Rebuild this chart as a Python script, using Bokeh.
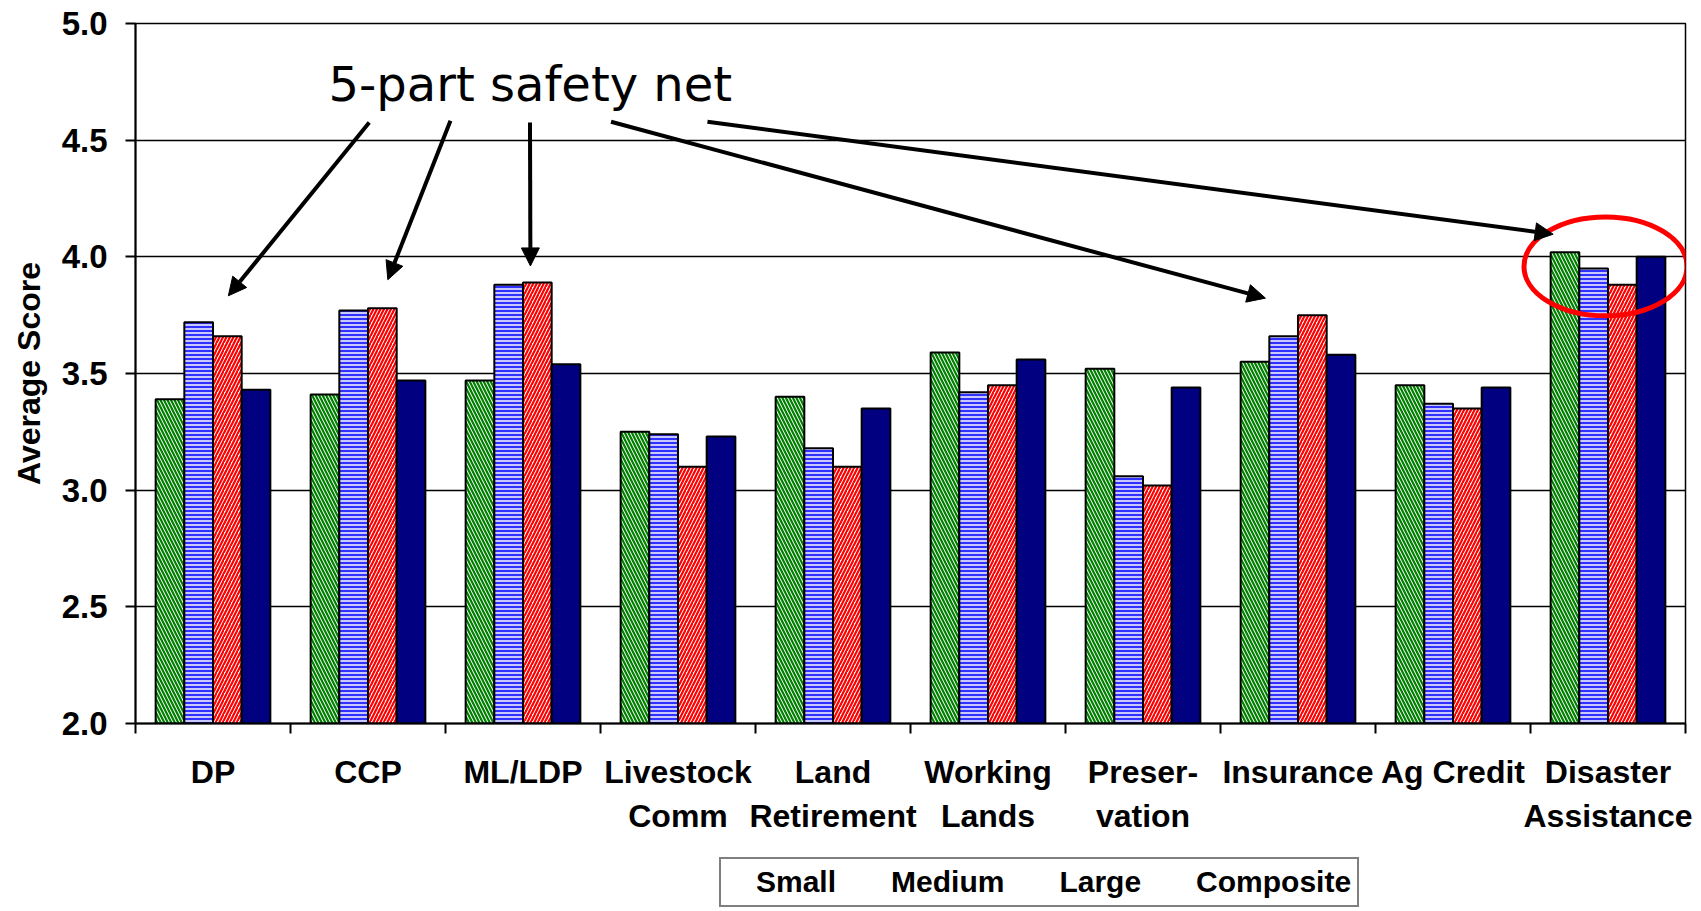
from bokeh.plotting import figure
from bokeh.layouts import column
from bokeh.models import (Range1d, LinearAxis, FixedTicker,
                          Legend, LegendItem, Arrow, NormalHead, Label, ColumnDataSource,
                          NumeralTickFormatter)
from bokeh.transform import dodge
from bokeh.embed import file_html
from bokeh.resources import INLINE

# ---------------- data ----------------
categories = ["DP", "CCP", "ML/LDP", "Livestock\nComm", "Land\nRetirement",
              "Working\nLands", "Preser-\nvation", "Insurance", "Ag Credit",
              "Disaster\nAssistance"]
series_names = ["Small", "Medium", "Large", "Composite"]
small = [3.39, 3.41, 3.47, 3.25, 3.40, 3.59, 3.52, 3.55, 3.45, 4.02]
medium = [3.72, 3.77, 3.88, 3.24, 3.18, 3.42, 3.06, 3.66, 3.37, 3.95]
large = [3.66, 3.78, 3.89, 3.10, 3.10, 3.45, 3.02, 3.75, 3.35, 3.88]
composite = [3.43, 3.47, 3.54, 3.23, 3.35, 3.56, 3.44, 3.58, 3.44, 4.00]
y_ticks = [2.0, 2.5, 3.0, 3.5, 4.0, 4.5, 5.0]
y_title = "Average Score"
note_text = "5-part safety net"

n = len(categories)
centers = [i + 0.5 for i in range(n)]          # category slot centres
bounds = [float(i) for i in range(n + 1)]      # category slot boundaries
first_lines = {c: cat.split("\n")[0] for c, cat in zip(centers, categories)}
second_lines = {c: cat.split("\n")[1] for c, cat in zip(centers, categories) if "\n" in cat}
source = ColumnDataSource(dict(pos=centers, small=small, medium=medium,
                               large=large, composite=composite))

FONT = "Liberation Sans"

p = figure(frame_width=1550, frame_height=700, x_range=Range1d(0, n),
           y_range=Range1d(y_ticks[0], y_ticks[-1]),
           output_backend="svg", toolbar_location=None, x_axis_location=None,
           min_border_left=135, min_border_right=16, min_border_top=23,
           min_border_bottom=118)
p.background_fill_color = "white"
p.border_fill_color = "white"
p.outline_line_color = "black"
p.outline_line_width = 1.5

# ---------------- bars ----------------
bar_w = 0.185
offsets = [-0.2775, -0.0925, 0.0925, 0.2775]
styles = [
    dict(fill_color="white", hatch_pattern="\\", hatch_color="#008000", hatch_scale=7, hatch_weight=2.2),
    dict(fill_color="#c8c8ff", hatch_pattern="-", hatch_color="#3030ff", hatch_scale=4, hatch_weight=2),
    dict(fill_color="white", hatch_pattern="/", hatch_color="#ff0000", hatch_scale=7, hatch_weight=2.2),
    dict(fill_color="#000080"),
]
cols = ["small", "medium", "large", "composite"]
for col, off, st in zip(cols, offsets, styles):
    p.vbar(x=dodge("pos", off), top=col, bottom=y_ticks[0],
           width=bar_w, source=source, line_color="black", line_width=2, **st)

# ---------------- annotations ----------------
p.ellipse(x=[9.484], y=[3.959], width=[1.052], height=[0.424],
          fill_color=None, line_color="#ff0000", line_width=5)

arrow_start = [(1.508, 4.576), (2.032, 4.583), (2.545, 4.576), (3.068, 4.579), (3.690, 4.579)]
arrow_end = [(0.599, 3.833), (1.628, 3.902), (2.548, 3.961), (7.290, 3.823), (9.146, 4.097)]
for (xs, ys), (xe, ye) in zip(arrow_start, arrow_end):
    p.add_layout(Arrow(end=NormalHead(size=18, fill_color="black", line_color="black"),
                       x_start=xs, y_start=ys, x_end=xe, y_end=ye,
                       line_width=4, line_color="black"))

p.add_layout(Label(x=1.245, y=4.74, text=note_text, text_font="DejaVu Sans",
                   text_font_size="48px", text_color="black", text_baseline="alphabetic"))

# ---------------- axes ----------------
label_style = dict(major_label_text_font=FONT, major_label_text_font_style="bold",
                   major_label_text_font_size="32px", major_label_text_color="black")
x_axis = LinearAxis(ticker=FixedTicker(ticks=centers, minor_ticks=bounds),
                    major_label_overrides=first_lines,
                    major_tick_line_color=None, major_tick_in=0, major_tick_out=0,
                    minor_tick_in=0, minor_tick_out=10, minor_tick_line_width=2,
                    minor_tick_line_color="black",
                    axis_line_width=2, axis_line_color="black",
                    major_label_standoff=20, **label_style)
p.add_layout(x_axis, "below")

x_axis2 = LinearAxis(ticker=FixedTicker(ticks=list(second_lines.keys())),
                     major_label_overrides=second_lines,
                     major_tick_line_color=None, major_tick_in=0, major_tick_out=0,
                     minor_tick_line_color=None, axis_line_color=None,
                     major_label_standoff=5, **label_style)
p.add_layout(x_axis2, "below")

p.yaxis.ticker = FixedTicker(ticks=y_ticks)
p.yaxis.formatter = NumeralTickFormatter(format="0.0")
p.yaxis.axis_line_width = 2
p.yaxis.axis_line_color = "black"
p.yaxis.major_tick_out = 10
p.yaxis.major_tick_in = 0
p.yaxis.major_tick_line_width = 2
p.yaxis.minor_tick_line_color = None
p.yaxis.major_label_text_font = FONT
p.yaxis.major_label_text_font_style = "bold"
p.yaxis.major_label_text_font_size = "33px"
p.yaxis.major_label_text_color = "black"
p.yaxis.major_label_standoff = 18
p.yaxis.axis_label = y_title
p.yaxis.axis_label_text_font = FONT
p.yaxis.axis_label_text_font_style = "bold"
p.yaxis.axis_label_text_font_size = "32px"
p.yaxis.axis_label_text_color = "black"
p.yaxis.axis_label_standoff = 12

p.ygrid.ticker = FixedTicker(ticks=y_ticks)
p.ygrid.grid_line_color = "black"
p.ygrid.grid_line_width = 1.5
p.xgrid.visible = False

# ---------------- legend (own strip under the chart) ----------------
lg = figure(width=1701, height=66, x_range=Range1d(0, 1), y_range=Range1d(0, 1),
            output_backend="svg", toolbar_location=None,
            x_axis_location=None, y_axis_location=None,
            min_border_left=0, min_border_right=0, min_border_top=0, min_border_bottom=0)
lg.outline_line_color = None
lg.background_fill_color = "white"
lg.border_fill_color = "white"
lg.xgrid.visible = False
lg.ygrid.visible = False
key_renderers = [lg.vbar(x=[], top=[], width=bar_w, line_color="black", line_width=2, **st)
                 for st in styles]
legend = Legend(items=[LegendItem(label=s, renderers=[r]) for s, r in zip(series_names, key_renderers)],
                orientation="horizontal", location=(584, 0),
                label_text_font=FONT, label_text_font_style="bold", label_text_font_size="30px",
                label_text_color="black",
                glyph_width=19, glyph_height=19, label_standoff=10, spacing=26,
                padding=6, margin=0, border_line_color="black", border_line_width=2,
                background_fill_color="white")
lg.add_layout(legend)

layout = column(p, lg, spacing=0)
open("out.html", "w").write(file_html(layout, INLINE))
